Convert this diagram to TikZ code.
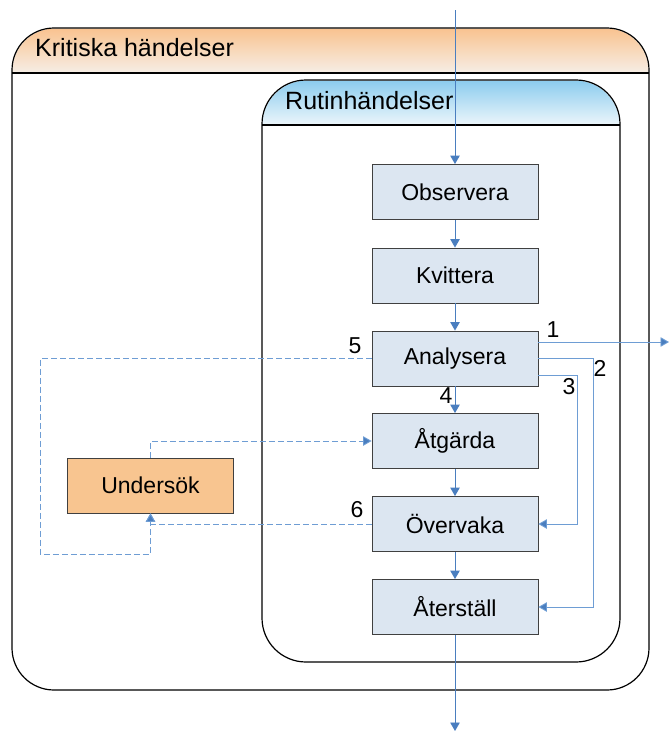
\documentclass[tikz,border=0pt]{standalone}
\usepackage{fontspec}
\setmainfont{Liberation Sans}
\usetikzlibrary{arrows.meta}
\definecolor{boxfill}{HTML}{DCE6F1}
\definecolor{boxline}{HTML}{404040}
\definecolor{orfill}{HTML}{F8C590}
\definecolor{flow}{HTML}{4A7EBF}
\definecolor{flowl}{HTML}{6E9DD4}
\definecolor{ortop}{HTML}{F9C390}
\definecolor{orbot}{HTML}{F6EEE6}
\definecolor{bltop}{HTML}{8CCCEE}
\definecolor{blbot}{HTML}{ECF6FB}
\tikzset{
  stepbox/.style={draw=boxline, line width=0.9pt, fill=boxfill, minimum width=166pt, minimum height=55pt, inner sep=0pt, font=\fontsize{23}{27}\selectfont},
  orbox/.style={stepbox, fill=orfill},
  flowarrow/.style={draw=flow, line width=0.9pt, -{Triangle[length=8.5pt,width=9.5pt]}},
  flowline/.style={draw=flowl, line width=0.9pt, -{Triangle[length=8.5pt,width=9.5pt,fill=flow]}},
  dasharrow/.style={draw=flowl, line width=0.9pt, dash pattern=on 6pt off 3pt, -{Triangle[length=8.5pt,width=9.5pt,fill=flow]}},
  numlabel/.style={inner sep=0pt, font=\fontsize{23}{27}\selectfont},
  headtext/.style={anchor=west, inner sep=0pt, font=\fontsize{25}{30}\selectfont},
  frame/.style={draw=black, line width=1.2pt}
}
\begin{document}
\begin{tikzpicture}[x=1pt, y=-1pt]
\useasboundingbox (0,0) rectangle (669,731);
% outer container
\path[fill=white, rounded corners=42pt] (12,28) rectangle (649,690);
\path[top color=ortop, bottom color=orbot, rounded corners=42pt]
  (12.6,73) -- (12.6,28.6) -- (648.4,28.6) [sharp corners] -- (648.4,73) -- cycle;
\draw[frame, rounded corners=42pt] (12,28) rectangle (649,690);
\draw[frame] (12,73) -- (649,73);
\node[headtext] (kh) at (35,48) {Kritiska händelser};
% inner container
\path[fill=white, rounded corners=44pt] (262,80) rectangle (620,662);
\path[top color=bltop, bottom color=blbot, rounded corners=44pt]
  (262.6,125) -- (262.6,80.6) -- (619.4,80.6) [sharp corners] -- (619.4,125) -- cycle;
\draw[frame, rounded corners=44pt] (262,80) rectangle (620,662);
\draw[frame] (262,125) -- (620,125);
\node[headtext] (rh) at (285,101) {Rutinhändelser};
% steps
\node[stepbox] (obs) at (455,192) {Observera};
\node[stepbox] (kvi) at (455,275.5) {Kvittera};
\node[stepbox] (ana) at (455,358.5) {Analysera};
\node[stepbox] (atg) at (455,441) {Åtgärda};
\node[stepbox] (ove) at (455,524) {Övervaka};
\node[stepbox] (ate) at (455,607) {Återställ};
\node[orbox] (und) at (150.5,485.5) {Undersök};
% coordinates
\coordinate (top) at (455,10);
\coordinate (bot) at (455,731);
\coordinate (out1) at (669,342);
\coordinate (a1) at (538,342);
\coordinate (a3) at (538,375);
% main flow
\draw[flowarrow] (top) -- (obs.north);
\draw[flowarrow] (obs) -- (kvi);
\draw[flowarrow] (kvi) -- (ana);
\draw[flowarrow] (ana) -- (atg);
\draw[flowarrow] (atg) -- (ove);
\draw[flowarrow] (ove) -- (ate);
\draw[flowarrow] (ate.south) -- (bot);
% outputs of Analysera
\draw[flowline] (a1) -- (out1);
\draw[flowline] (ana.east) -- (593,358.5) |- (ate.east);
\draw[flowline] (a3) -- (577,375) |- (ove.east);
% dashed
\draw[dasharrow] (ana.west) -- (40,358.5) -- (40,554) -| (und.south);
\draw[dasharrow] (ove.west) -| (und.south);
\draw[dasharrow] (und.north) |- (atg.west);
% labels
\node[numlabel] (l1) at (553,330) {1};
\node[numlabel] (l2) at (600,368) {2};
\node[numlabel] (l3) at (569,387) {3};
\node[numlabel] (l4) at (446,396) {4};
\node[numlabel] (l5) at (355,346) {5};
\node[numlabel] (l6) at (357,510) {6};
\end{tikzpicture}
\end{document}
